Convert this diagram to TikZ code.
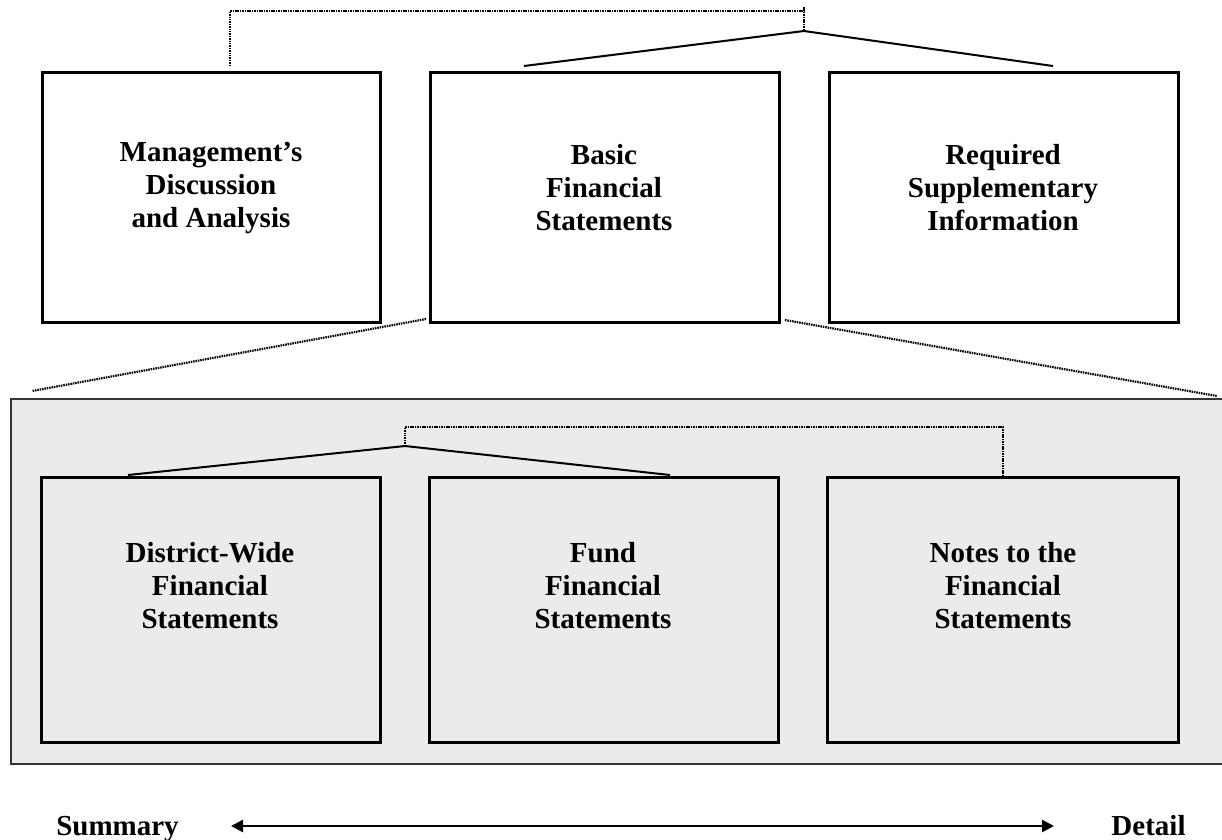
\documentclass[tikz,border=0pt]{standalone}
\usepackage{fontspec}
\setmainfont{Liberation Serif}
\usetikzlibrary{arrows.meta}
\begin{document}
\begin{tikzpicture}[x=1pt,y=-1pt,
  box/.style={draw=black,line width=3pt,anchor=north west,inner sep=0pt,outer sep=0pt},
  lbl/.style={font=\fontsize{29}{33}\selectfont\bfseries,align=center,inner sep=0pt},
  solidline/.style={draw=black,line width=2pt},
  dotline/.style={draw=black,line width=2.2pt,dash pattern=on 1.5pt off 0.9pt},
  grayarea/.style={draw=black!80,fill=black!8,line width=2.5pt,anchor=north west,inner sep=0pt,outer sep=0pt}]
\useasboundingbox (0,0) rectangle (1222,839);
% gray background area
\node[grayarea,minimum width=1240pt,minimum height=365pt] (area) at (11,399) {};
% upper boxes
\node[box,minimum width=338pt,minimum height=250pt] (mda) at (42,72) {};
\node[box,minimum width=349pt,minimum height=250pt] (bfs) at (430,72) {};
\node[box,minimum width=349pt,minimum height=250pt] (rsi) at (829,72) {};
\node[lbl] (mdat) at (211,188) {Management’s\\Discussion\\and Analysis};
\node[lbl] (bfst) at (604,188) {Basic\\Financial\\Statements};
\node[lbl] (rsit) at (1003,188) {Required\\Supplementary\\Information};
% lower boxes
\node[box,minimum width=339pt,minimum height=265pt] (dw) at (41,477) {};
\node[box,minimum width=349pt,minimum height=265pt] (fund) at (429,477) {};
\node[box,minimum width=351pt,minimum height=265pt] (notes) at (827,477) {};
\node[lbl] (dwt) at (210,586) {District-Wide\\Financial\\Statements};
\node[lbl] (fundt) at (603,586) {Fund\\Financial\\Statements};
\node[lbl] (notest) at (1003,586) {Notes to the\\Financial\\Statements};
% upper connectors
\coordinate (peakA) at (804,31);
\coordinate (tickA) at (804,7);
\coordinate (barA) at (804,11);
\coordinate (bfsL) at (524,66);
\coordinate (rsiL) at (1053,66);
\coordinate (mdaT) at (230,66);
\draw[solidline] (bfsL) -- (peakA) -- (rsiL);
\draw[dotline] (mdaT) |- (barA);
\draw[dotline] (tickA) -- (peakA);
% expansion lines
\coordinate (bfsBL) at (426,319);
\coordinate (bfsBR) at (785,320);
\coordinate (areaL) at (32,391);
\coordinate (areaR) at (1217,396);
\draw[dotline] (bfsBL) -- (areaL);
\draw[dotline] (bfsBR) -- (areaR);
% lower connectors
\coordinate (peakB) at (405,446);
\coordinate (dwL) at (128,475);
\coordinate (fundL) at (670,475);
\coordinate (barB) at (405,427);
\coordinate (notesT) at (1003,477);
\draw[solidline] (dwL) -- (peakB) -- (fundL);
\draw[dotline] (peakB) -- (barB) -| (notesT);
% bottom scale
\node[lbl,anchor=base] (sum) at (117.5,835) {Summary};
\node[lbl,anchor=base] (det) at (1148.5,835) {Detail};
\coordinate (arL) at (231,826);
\coordinate (arR) at (1054,826);
\draw[line width=2.5pt,{Triangle[length=12pt,width=12pt]}-{Triangle[length=12pt,width=12pt]}] (arL) -- (arR);
\end{tikzpicture}
\end{document}
